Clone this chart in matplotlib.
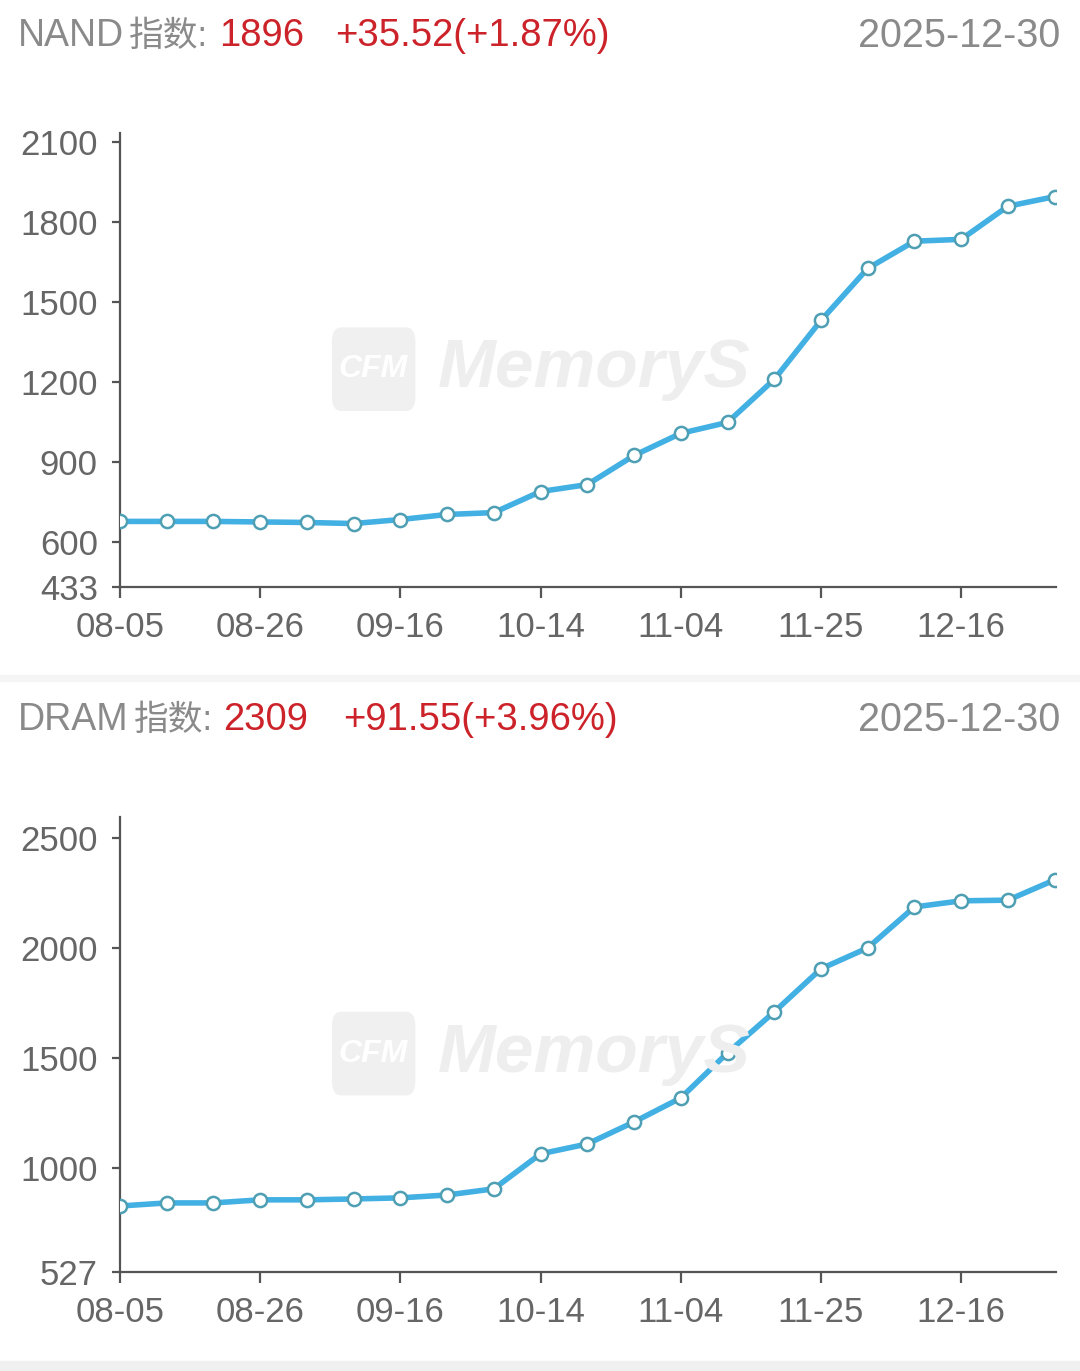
import matplotlib
matplotlib.use("Agg")
import matplotlib.pyplot as plt
from matplotlib.patches import FancyBboxPatch, Rectangle

plt.rcParams["font.family"] = ["Liberation Sans", "Noto Sans CJK SC", "DejaVu Sans"]

# 周线数据 (10-07 国庆假期缺失)
dates = ["08-05", "08-12", "08-19", "08-26", "09-02", "09-09", "09-16", "09-23", "09-30",
         "10-14", "10-21", "10-28", "11-04", "11-11", "11-18", "11-25", "12-02", "12-09",
         "12-16", "12-23", "12-30"]
nand = [679, 679, 679, 677, 675, 671, 686, 705, 712, 791, 817, 926, 1009, 1050, 1211,
        1432, 1627, 1729, 1736, 1860, 1896]
dram = [827, 841, 841, 855, 855, 859, 864, 877, 905, 1064, 1109, 1209, 1318, 1523, 1709,
        1905, 2000, 2186, 2214, 2217, 2309]

tick_dates = ["08-05", "08-26", "09-16", "10-14", "11-04", "11-25", "12-16"]
nand_yticks = [433, 600, 900, 1200, 1500, 1800, 2100]
dram_yticks = [527, 1000, 1500, 2000, 2500]

panels = [
    {"name": "NAND", "values": nand, "yticks": nand_yticks, "ylim": (433, 2134),
     "rect": [0.1111, 0.5718, 0.8667, 0.3311], "head_y": 0.9735,
     "value": "1896", "change": "+35.52(+1.87%)", "zx": 0.1195, "vx": 0.203, "cx": 0.310},
    {"name": "DRAM", "values": dram, "yticks": dram_yticks, "ylim": (527, 2595),
     "rect": [0.1111, 0.0722, 0.8667, 0.3319], "head_y": 0.4745,
     "value": "2309", "change": "+91.55(+3.96%)", "zx": 0.1240, "vx": 0.207, "cx": 0.318},
]

LINE = "#42b0e3"
EDGE = "#4e9fb3"
GRAY = "#666666"
AXIS = "#555555"
RED = "#cc2229"
HEAD = "#8a8a8a"

fig = plt.figure(figsize=(10.8, 13.71), dpi=100)
fig.patch.set_facecolor("white")

# 分隔带
fig.add_artist(Rectangle((0, 0.5035), 1, 0.004, transform=fig.transFigure,
                         color="#f5f5f5", zorder=0))
fig.add_artist(Rectangle((0, 0.0), 1, 0.007, transform=fig.transFigure,
                         color="#f0f0f0", zorder=0))

xs = list(range(len(dates)))

for p in panels:
    ax = fig.add_axes(p["rect"])
    ax.set_facecolor("none")

    # 水印
    l, b, w, h = p["rect"]
    wm_y = b + h * 0.48
    fig.add_artist(FancyBboxPatch((0.308, wm_y - 0.030), 0.076, 0.060,
                                  boxstyle="round,pad=0,rounding_size=0.008",
                                  transform=fig.transFigure, color="#f0f0f0",
                                  zorder=0, mutation_aspect=1.27))
    fig.text(0.3455, wm_y, "CFM", fontsize=23, color="white", weight="bold",
             style="italic", ha="center", va="center", zorder=1)
    fig.text(0.405, wm_y, "MemoryS", fontsize=50, color="#eeeeee", weight="bold",
             style="italic", ha="left", va="center", zorder=1)

    ax.plot(xs, p["values"], color=LINE, linewidth=4.0, zorder=3,
            solid_capstyle="round", solid_joinstyle="round")
    ax.plot(xs, p["values"], linestyle="none", marker="o", markersize=9.5,
            markerfacecolor="white", markeredgecolor=EDGE, markeredgewidth=1.8,
            zorder=4)

    ax.set_xlim(0, len(dates) - 1 + 0.03)
    ax.set_ylim(*p["ylim"])
    ax.set_yticks(p["yticks"])
    ax.set_yticklabels([str(v) for v in p["yticks"]])
    ax.set_xticks([dates.index(d) for d in tick_dates])
    ax.set_xticklabels(tick_dates)

    for side in ["top", "right"]:
        ax.spines[side].set_visible(False)
    for side in ["left", "bottom"]:
        ax.spines[side].set_color(AXIS)
        ax.spines[side].set_linewidth(1.6)
    ax.tick_params(axis="y", length=6, width=1.6, color=AXIS, pad=10,
                   labelsize=25, labelcolor=GRAY)
    ax.tick_params(axis="x", length=8, width=1.6, color=AXIS, pad=9,
                   labelsize=25, labelcolor=GRAY)

    # 标题行
    fig.text(0.017, p["head_y"], p["name"], fontsize=27, color=HEAD,
             ha="left", va="center")
    fig.text(p["zx"], p["head_y"], "指数:", fontsize=25, color=HEAD,
             ha="left", va="center")
    fig.text(p["vx"], p["head_y"], p["value"], fontsize=27.5, color=RED,
             ha="left", va="center")
    fig.text(p["cx"], p["head_y"], p["change"], fontsize=27.5, color=RED,
             ha="left", va="center")
    fig.text(0.982, p["head_y"], "2025-12-30", fontsize=28.5, color=HEAD,
             ha="right", va="center")

fig.savefig("out.png", dpi=100)
